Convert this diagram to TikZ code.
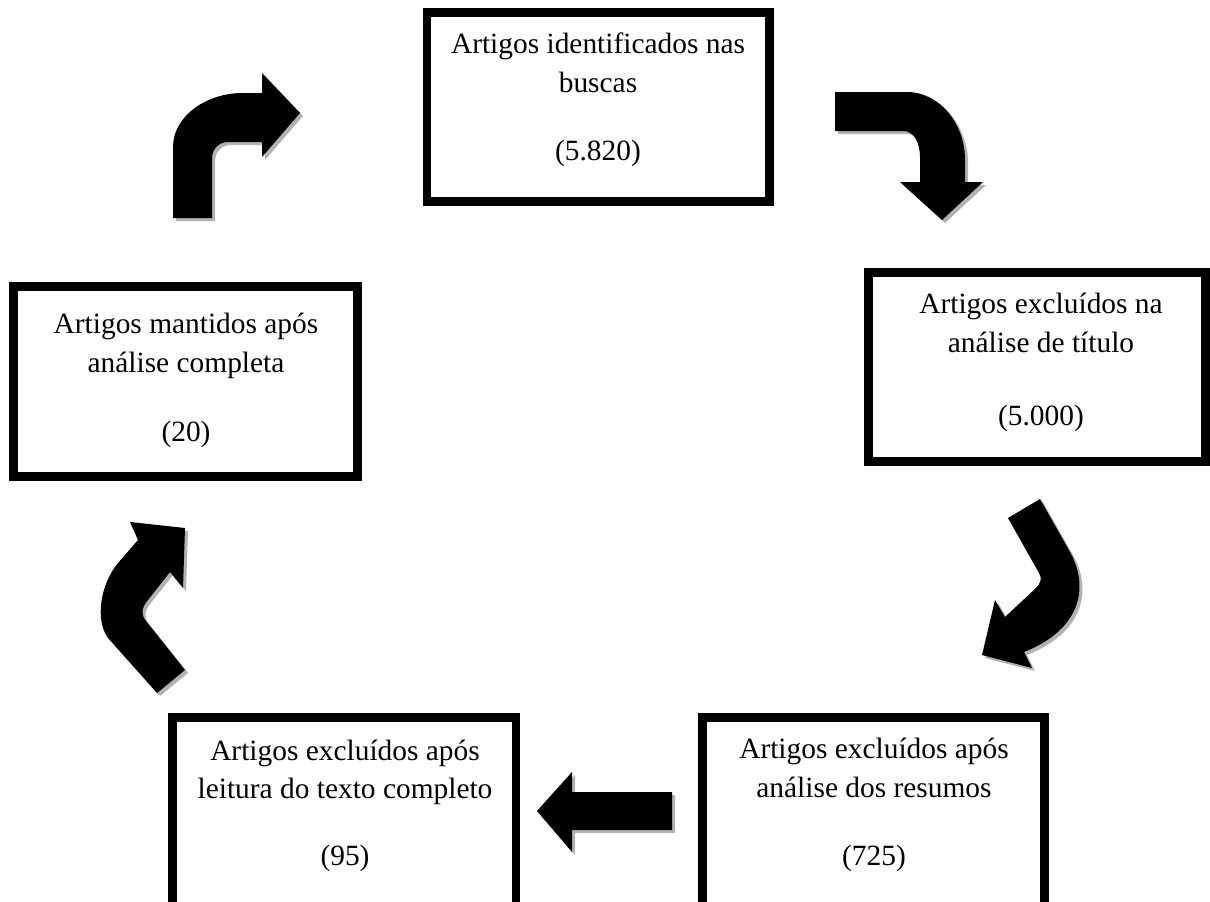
\documentclass[tikz,border=0pt]{standalone}
\usepackage{fontspec}
\setmainfont{Liberation Serif}
\begin{document}
\begin{tikzpicture}[x=1pt,y=-1pt,
  box/.style={draw=black, line width=8.5pt, fill=white, rectangle, inner sep=0pt},
  lbl/.style={anchor=base, inner sep=0pt, font=\fontsize{29.4}{35}\selectfont},
  arr/.style={fill=black},
  shad/.style={fill=black!30}]
\useasboundingbox (0,0) rectangle (1210,902);
\clip (0,0) rectangle (1210,902);
\fill[white] (0,0) rectangle (1210,902);

% boxes
\node[box, minimum width=342.5pt, minimum height=189pt] (top) at (598.25,107) {};
\node[box, minimum width=337pt, minimum height=189pt] (right) at (1037,367) {};
\node[box, minimum width=344pt, minimum height=190pt] (left) at (185.5,381.5) {};
\node[box, minimum width=343.5pt, minimum height=232.5pt] (bl) at (344.25,833.75) {};
\node[box, minimum width=342pt, minimum height=232.5pt] (br) at (873.5,833.75) {};

% texts
\node[lbl] (t1) at (598,53) {Artigos identificados nas};
\node[lbl] (t2) at (598,92) {buscas};
\node[lbl] (t3) at (598,160) {(5.820)};

\node[lbl] (r1) at (1041,313) {Artigos excluídos na};
\node[lbl] (r2) at (1041,352) {análise de título};
\node[lbl] (r3) at (1041,425) {(5.000)};

\node[lbl] (l1) at (186,333) {Artigos mantidos após};
\node[lbl] (l2) at (186,372) {análise completa};
\node[lbl] (l3) at (186,441) {(20)};

\node[lbl] (b1) at (345,760) {Artigos excluídos após};
\node[lbl] (b2) at (345,798) {leitura do texto completo};
\node[lbl] (b3) at (345,865) {(95)};

\node[lbl] (c1) at (874,758) {Artigos excluídos após};
\node[lbl] (c2) at (874,797) {análise dos resumos};
\node[lbl] (c3) at (874,865) {(725)};

% arrow outlines (shadow + fill)
\def\arrA{(835,92) -- (907,92) .. controls (939,92) and (965,123) .. (965,160) -- (965,182) -- (983,182) -- (942,220) -- (900,182) -- (920,182) -- (920,158) .. controls (920,142) and (914,131) .. (903,131) -- (835,131) -- cycle}
\def\arrB{(173,218) -- (173,147) .. controls (173,117) and (205,93) .. (243,93) -- (262,93) -- (262,73) -- (300,113) -- (262,157) -- (262,142) -- (228,142) .. controls (219,142) and (212,149) .. (212,158) -- (212,218) -- cycle}
\def\arrC{(1008,518) -- (1040,499) -- (1070,552) .. controls (1090,588) and (1080,630) .. (1024,652) -- (1032,668) -- (982,655) -- (995,600) -- (1005,617) -- (1036,588) .. controls (1041,583) and (1042,578) .. (1039,573) -- cycle}
\def\arrD{(157,693) -- (108,638) .. controls (95,620) and (100,585) .. (118,563) -- (138,540) -- (130,522) -- (185,528) -- (183,588) -- (170,572) -- (148,600) .. controls (141,608) and (141,615) .. (146,621) -- (185,670) -- cycle}
\def\arrE{(672,792) -- (572,792) -- (572,772) -- (537,811) -- (572,852) -- (572,830) -- (672,830) -- cycle}

\begin{scope}[shift={(3,3)}]
\fill[shad] \arrA; \fill[shad] \arrB; \fill[shad] \arrC; \fill[shad] \arrD; \fill[shad] \arrE;
\end{scope}
\fill[arr] \arrA;
\fill[arr] \arrB;
\fill[arr] \arrC;
\fill[arr] \arrD;
\fill[arr] \arrE;
\end{tikzpicture}
\end{document}
